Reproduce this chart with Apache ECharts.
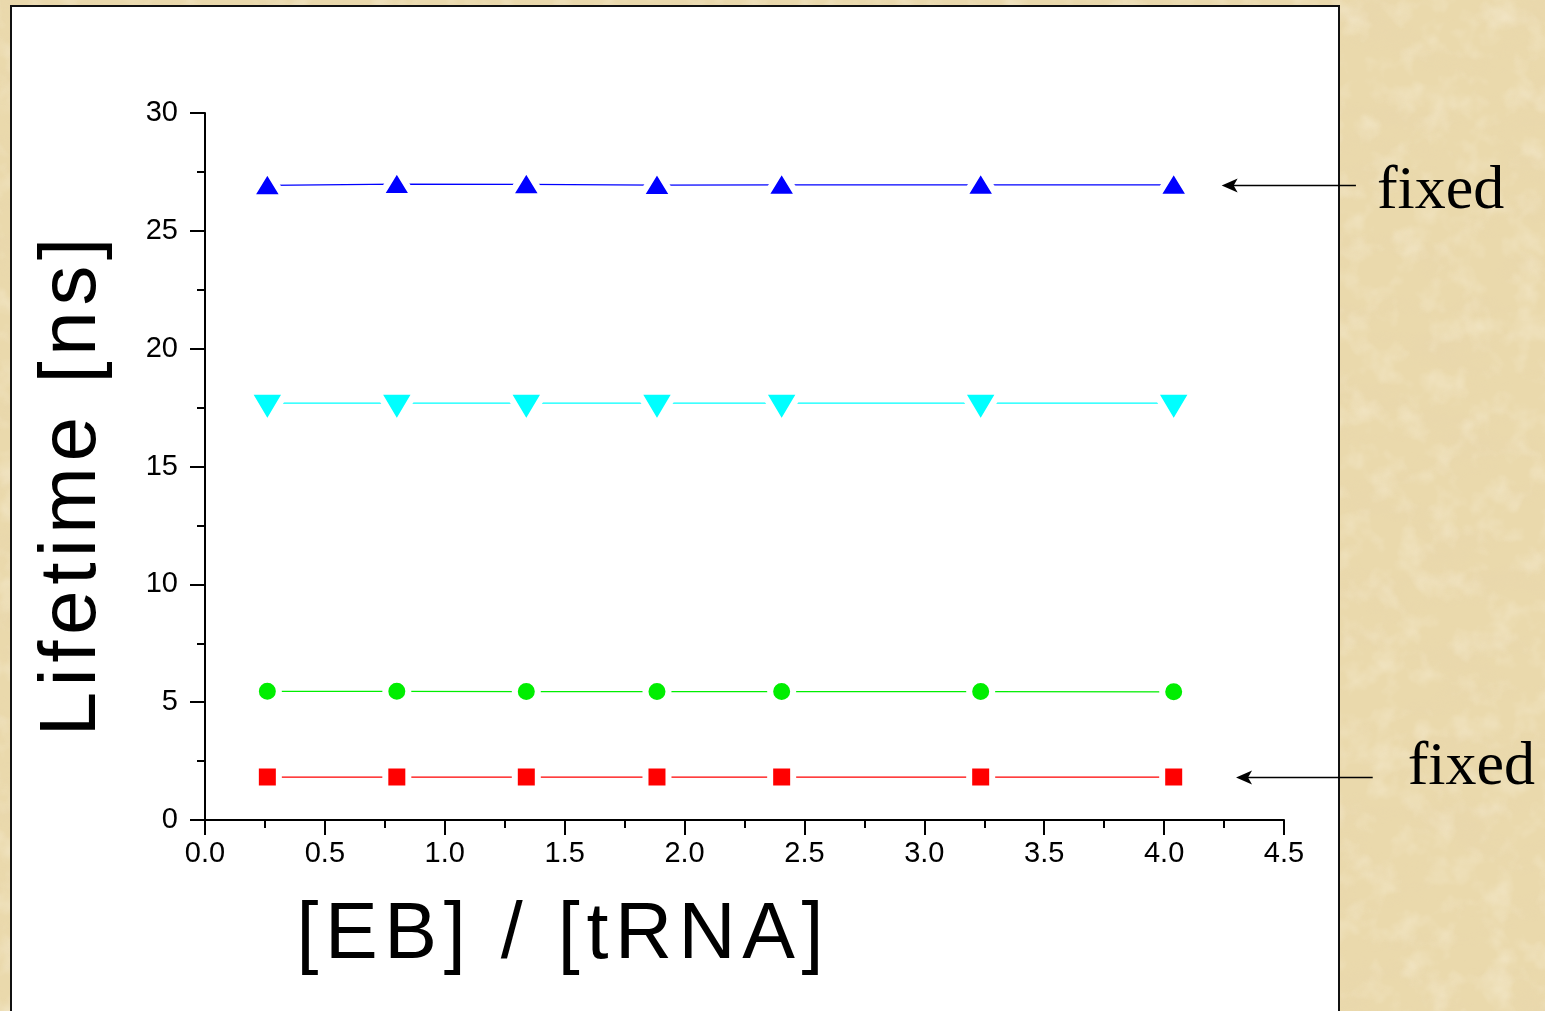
<!DOCTYPE html>
<html>
<head>
<meta charset="utf-8">
<title>Lifetime vs [EB]/[tRNA]</title>
<script src="https://cdn.jsdelivr.net/npm/echarts@6/dist/echarts.min.js"></script>
<style>
  html, body { margin: 0; padding: 0; width: 1545px; height: 1011px; overflow: hidden; background: #ead9ac; }
  #panel { position: absolute; left: 10px; top: 5px; width: 1330px; height: 1100px; box-sizing: border-box;
           background: #fff; border: 2px solid #111; }
  #chart { position: absolute; left: 0; top: 0; width: 1545px; height: 1011px; }
</style>
</head>
<body>
<div id="panel"></div>
<div id="chart"></div>
<script>
// Molar ratio [EB]/[tRNA] of each measurement
const ratio = [0.26, 0.80, 1.34, 1.885, 2.405, 3.235, 4.04];

// Fitted fluorescence lifetimes (ns) of the four decay components
const tauLong   = [26.93, 26.98, 26.97, 26.94, 26.95, 26.95, 26.95];
const tauBound  = [17.69, 17.69, 17.69, 17.69, 17.69, 17.69, 17.69];
const tauMid    = [5.46, 5.46, 5.45, 5.45, 5.45, 5.45, 5.44];
const tauShort  = [1.82, 1.82, 1.82, 1.82, 1.82, 1.82, 1.82];

// Axis ranges and tick steps
const xTicks = { min: 0, max: 4.5, step: 0.5 };
const yTicks = { min: 0, max: 30, step: 5 };

// Text
const xName = '[EB] / [tRNA]';
const yName = 'Lifetime [ns]';
const fixedNote = 'fixed';

const SANS = '"Liberation Sans", Arial, Helvetica, sans-serif';
const SERIF = '"Liberation Serif", "Times New Roman", serif';

// Parchment-like page texture
(function () {
  const svg = "<svg xmlns='http://www.w3.org/2000/svg' width='1545' height='1011'>" +
    "<filter id='a' x='0' y='0' width='100%' height='100%'>" +
    "<feTurbulence type='fractalNoise' baseFrequency='0.012 0.03' numOctaves='5' seed='7'/>" +
    "<feColorMatrix type='matrix' values='0 0 0 0 0.80  0 0 0 0 0.66  0 0 0 0 0.42  1.6 0 0 0 -0.75'/></filter>" +
    "<filter id='b' x='0' y='0' width='100%' height='100%'>" +
    "<feTurbulence type='fractalNoise' baseFrequency='0.035' numOctaves='3' seed='2'/>" +
    "<feColorMatrix type='matrix' values='0 0 0 0 1  0 0 0 0 0.97  0 0 0 0 0.88  0 1.5 0 0 -0.7'/></filter>" +
    "<rect width='100%' height='100%' fill='#ead9ac'/>" +
    "<rect width='100%' height='100%' filter='url(#a)' opacity='0.55'/>" +
    "<rect width='100%' height='100%' filter='url(#b)' opacity='0.45'/>" +
    "</svg>";
  document.body.style.backgroundImage = 'url("data:image/svg+xml,' + encodeURIComponent(svg) + '")';
})();

// Spread characters apart with per-character rich tokens
function spaced(str, key) {
  return str.split('').map(c => '{' + key + '|' + c + '}').join('');
}

const chart = echarts.init(document.getElementById('chart'), null, { renderer: 'canvas' });

// Marker with a white halo so the connecting line stops short of it
function makeSeries(name, values, color, symbol, size, rotate, offset) {
  return {
    type: 'line',
    name: name,
    data: ratio.map((x, i) => [x, values[i]]),
    symbol: symbol,
    symbolSize: size,
    symbolRotate: rotate || 0,
    symbolOffset: offset || [0, 0],
    showAllSymbol: true,
    clip: false,
    lineStyle: { color: color, width: 1.3 },
    itemStyle: { color: color, borderColor: '#ffffff', borderWidth: 6, borderJoin: 'miter' },
    emphasis: { disabled: true },
    silent: true
  };
}

const axisLineStyle = { color: '#000', width: 2 };

chart.setOption({
  backgroundColor: 'transparent',
  animation: false,
  grid: { left: 205, right: 261, top: 113, bottom: 191, containLabel: false },
  xAxis: {
    type: 'value',
    min: xTicks.min, max: xTicks.max, interval: xTicks.step,
    axisLine: { show: true, onZero: false, lineStyle: axisLineStyle },
    axisTick: { show: true, length: 15, lineStyle: axisLineStyle },
    minorTick: { show: true, splitNumber: 2, length: 8, lineStyle: axisLineStyle },
    splitLine: { show: false },
    axisLabel: {
      margin: 19, fontSize: 29, color: '#000', fontFamily: SANS,
      formatter: v => v.toFixed(1)
    }
  },
  yAxis: {
    type: 'value',
    min: yTicks.min, max: yTicks.max, interval: yTicks.step,
    axisLine: { show: true, onZero: false, lineStyle: axisLineStyle },
    axisTick: { show: true, length: 15, lineStyle: axisLineStyle },
    minorTick: { show: true, splitNumber: 2, length: 8, lineStyle: axisLineStyle },
    splitLine: { show: false },
    axisLabel: { margin: 27, fontSize: 29, color: '#000', fontFamily: SANS }
  },
  series: [
    makeSeries('τ1', tauShort, '#ff0000', 'rect', 23),
    makeSeries('τ2', tauMid, '#00ee00', 'circle', 23),
    makeSeries('τ3', tauBound, '#00ffff', 'triangle', [38, 32], 180, [0, 5]),
    makeSeries('τ4', tauLong, '#0000ff', 'triangle', [33, 27], 0, [0, -2])
  ]
});

// Axis titles and the "fixed" annotations, anchored to data coordinates
function px(x, y) { return chart.convertToPixel({ gridIndex: 0 }, [x, y]); }

function arrow(tipX, tailX, y, label, labelGap, labelDy) {
  const tip = px(tipX, y);
  const tail = px(tailX, y);
  const yy = Math.round(tip[1]) + 0.5;
  return [
    { type: 'line', silent: true, z: 10,
      shape: { x1: tip[0] + 10, y1: yy, x2: tail[0], y2: yy },
      style: { stroke: '#000', lineWidth: 1.6 } },
    { type: 'polygon', silent: true, z: 10,
      shape: { points: [[tip[0], yy], [tip[0] + 16, yy - 7], [tip[0] + 12, yy], [tip[0] + 16, yy + 7]] },
      style: { fill: '#000' } },
    { type: 'text', silent: true, z: 10,
      x: tail[0] + labelGap, y: yy + labelDy,
      style: { text: label, fontFamily: SERIF, fontSize: 62, fill: '#000',
               align: 'left', verticalAlign: 'middle' } }
  ];
}

chart.setOption({
  graphic: [
    { type: 'text', silent: true, x: 560, y: 936,
      style: { text: spaced(xName, 'c'), align: 'center', verticalAlign: 'middle',
               rich: { c: { fontFamily: SANS, fontSize: 79, fill: '#000', padding: [0, 3.3] } } } },
    { type: 'text', silent: true, x: 73, y: 487, rotation: Math.PI / 2,
      style: { text: spaced(yName, 'c'), align: 'center', verticalAlign: 'middle',
               rich: { c: { fontFamily: SANS, fontSize: 80, fill: '#000', padding: [0, 2.8] } } } }
  ]
    .concat(arrow(4.24, 4.80, tauLong[tauLong.length - 1], fixedNote, 21, 6))
    .concat(arrow(4.30, 4.87, tauShort[tauShort.length - 1], fixedNote, 35, -10))
});
</script>
</body>
</html>
